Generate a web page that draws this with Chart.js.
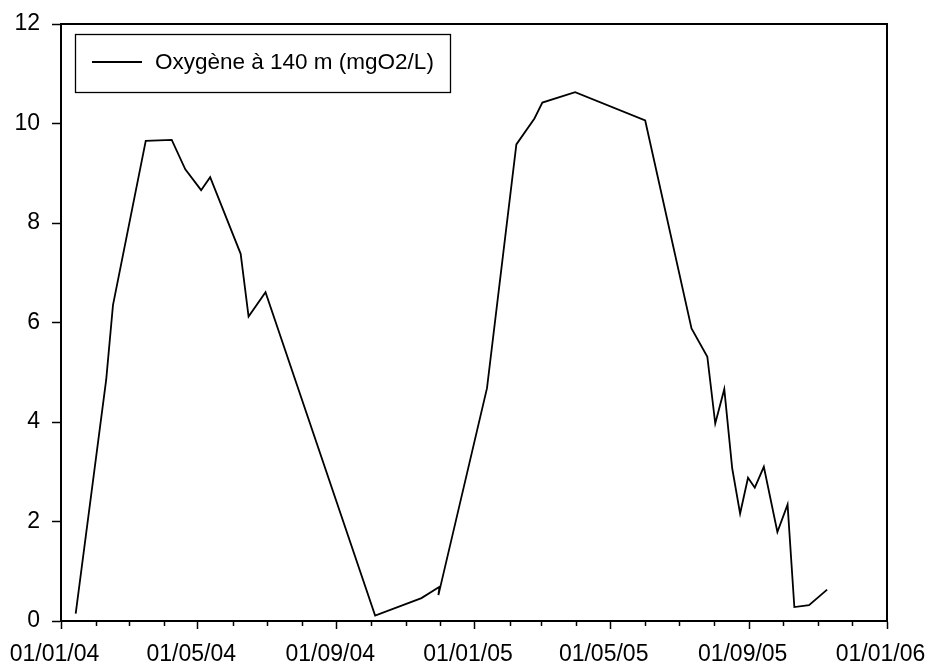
<!DOCTYPE html>
<html>
<head>
<meta charset="utf-8">
<title>Oxygène à 140 m</title>
<script src="https://cdn.jsdelivr.net/npm/chart.js@4/dist/chart.umd.min.js"></script>
<style>
  html, body { margin: 0; padding: 0; background: #fff; }
  #wrap { width: 931px; height: 666px; }
</style>
</head>
<body>
<div id="wrap"><canvas id="myChart" width="931" height="666"></canvas></div>
<script>
// sampling dates and dissolved oxygen at 140 m
var sampleDates = [
    "2004-01-14", "2004-02-10", "2004-02-16", "2004-03-16", "2004-04-08",
    "2004-04-20", "2004-05-04", "2004-05-12", "2004-06-08", "2004-06-15",
    "2004-06-30", "2004-10-05", "2004-11-15", "2004-12-01", "2004-11-30",
    "2005-01-12", "2005-02-07", "2005-02-23", "2005-03-02", "2005-03-31",
    "2005-06-01", "2005-07-12", "2005-07-26", "2005-08-02", "2005-08-10",
    "2005-08-17", "2005-08-24", "2005-08-31", "2005-09-06", "2005-09-14",
    "2005-09-26", "2005-10-05", "2005-10-11", "2005-10-24", "2005-11-09"
];
var oxygenValues = [
    0.15, 4.85, 6.35, 9.65, 9.67,
    9.08, 8.66, 8.92, 7.38, 6.12,
    6.61, 0.11, 0.46, 0.69, 0.52,
    4.68, 9.58, 10.10, 10.42, 10.63,
    10.06, 5.88, 5.31, 3.97, 4.66,
    3.07, 2.16, 2.88, 2.68, 3.10,
    1.79, 2.34, 0.28, 0.32, 0.63
];
var seriesLabel = "Oxygène à 140 m (mgO2/L)";

// x axis: month starts, labelled every 4 months
var monthTicks = [
    "2004-01-01", "2004-02-01", "2004-03-01", "2004-04-01", "2004-05-01",
    "2004-06-01", "2004-07-01", "2004-08-01", "2004-09-01", "2004-10-01",
    "2004-11-01", "2004-12-01", "2005-01-01", "2005-02-01", "2005-03-01",
    "2005-04-01", "2005-05-01", "2005-06-01", "2005-07-01", "2005-08-01",
    "2005-09-01", "2005-10-01", "2005-11-01", "2005-12-01", "2006-01-01"
];
var yTicks = [0, 2, 4, 6, 8, 10, 12];

// no date adapter offline, so dates become day numbers from the first tick
var origin = Date.parse(monthTicks[0]);
const toDay = d => (Date.parse(d) - origin) / 86400000;

const fmtDate = d => {
    var p = d.split("-");
    return p[2] + "/" + p[1] + "/" + p[0].slice(2);
};

var points = sampleDates.map((d, i) => ({ x: toDay(d), y: oxygenValues[i] }));
var tickDays = monthTicks.map(toDay);

const FONT = "'Liberation Sans', Arial, sans-serif";

// box round the plot, short month ticks, and the legend inside the plot
const framePlugin = {
    id: "frame",
    afterDraw(chart) {
        const c = chart.ctx;
        const a = chart.chartArea;
        const xs = chart.scales.x;
        c.save();
        c.strokeStyle = "#000";
        c.lineWidth = 2;
        c.beginPath();
        c.moveTo(a.left, a.top);
        c.lineTo(a.right, a.top);
        c.lineTo(a.right, a.bottom);
        c.stroke();

        // minor month ticks
        c.lineWidth = 1.5;
        tickDays.forEach((v, i) => {
            if (i % 4 === 0) return;
            var px = Math.round(xs.getPixelForValue(v)) + 0.5;
            c.beginPath();
            c.moveTo(px, a.bottom);
            c.lineTo(px, a.bottom + 5);
            c.stroke();
        });

        // legend
        c.fillStyle = "#fff";
        c.fillRect(75, 34, 375, 58);
        c.lineWidth = 1.3;
        c.strokeRect(75.5, 34.5, 375, 58);
        c.lineWidth = 1.8;
        c.beginPath();
        c.moveTo(92, 62);
        c.lineTo(142, 62);
        c.stroke();
        c.fillStyle = "#000";
        c.font = "22.5px " + FONT;
        c.textBaseline = "middle";
        c.textAlign = "left";
        c.fillText(chart.data.datasets[0].label, 155, 63);
        c.restore();
    }
};

let mychart = new Chart("myChart", {
    type: "line",
    data: {
        datasets: [{
            label: seriesLabel,
            data: points,
            borderColor: "#000",
            borderWidth: 1.8,
            pointRadius: 0,
            tension: 0,
            fill: false
        }]
    },
    options: {
        responsive: false,
        animation: false,
        devicePixelRatio: 1,
        layout: { padding: { top: 24, right: 44, left: 0, bottom: 0 } },
        plugins: {
            legend: { display: false },
            tooltip: { enabled: false }
        },
        scales: {
            x: {
                type: "linear",
                min: tickDays[0],
                max: tickDays[tickDays.length - 1],
                afterBuildTicks: s => { s.ticks = tickDays.map(v => ({ value: v })); },
                // fixed height, and no extra room for the end labels
                afterFit: s => { s.height = 45; s.paddingLeft = 0; s.paddingRight = 0; },
                border: { color: "#000", width: 2 },
                grid: {
                    drawOnChartArea: false,
                    tickLength: 8,
                    tickWidth: 1.5,
                    tickColor: ctx => (ctx.index % 4 === 0 ? "#000" : "rgba(0,0,0,0)")
                },
                ticks: {
                    autoSkip: false,
                    maxRotation: 0,
                    padding: 12,
                    labelOffset: -6.5,
                    color: "#000",
                    font: { family: FONT, size: 23 },
                    callback: (v, i) => (i % 4 === 0 ? fmtDate(monthTicks[i]) : "")
                }
            },
            y: {
                min: 0,
                max: 12,
                afterBuildTicks: s => { s.ticks = yTicks.map(v => ({ value: v })); },
                afterFit: s => { s.width = 61; s.paddingTop = 0; s.paddingBottom = 0; },
                border: { color: "#000", width: 2 },
                grid: {
                    drawOnChartArea: false,
                    tickLength: 9,
                    tickWidth: 1.5,
                    tickColor: "#000"
                },
                ticks: {
                    padding: 12,
                    color: "#000",
                    font: { family: FONT, size: 23 }
                }
            }
        }
    },
    plugins: [framePlugin]
});
</script>
</body>
</html>
